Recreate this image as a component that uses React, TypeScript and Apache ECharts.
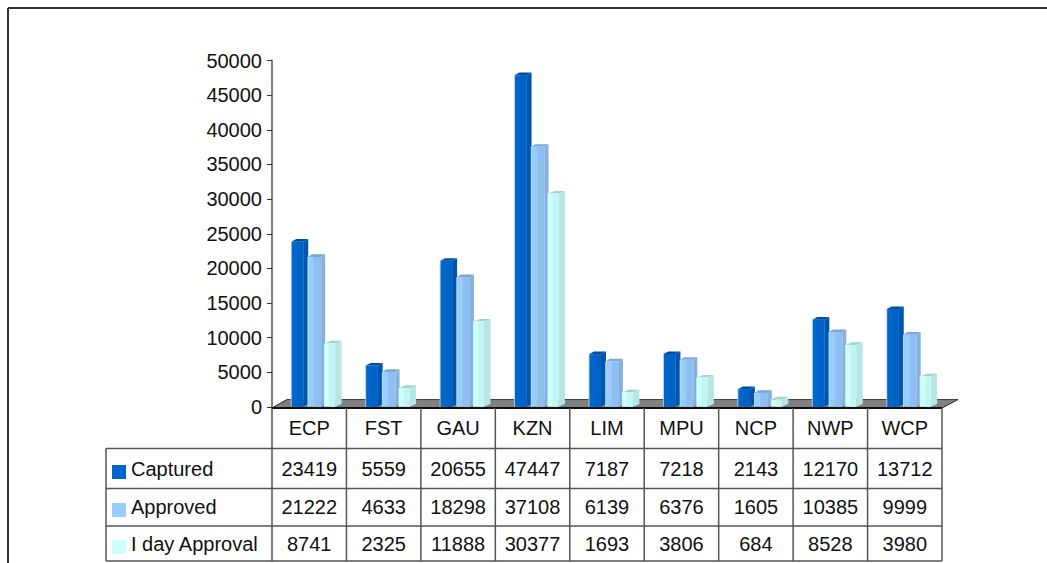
import React, { useEffect, useRef } from "react";
import * as echarts from "echarts";

const categories = ["ECP", "FST", "GAU", "KZN", "LIM", "MPU", "NCP", "NWP", "WCP"];
const captured = [23419, 5559, 20655, 47447, 7187, 7218, 2143, 12170, 13712];
const approved = [21222, 4633, 18298, 37108, 6139, 6376, 1605, 10385, 9999];
const oneDay = [8741, 2325, 11888, 30377, 1693, 3806, 684, 8528, 3980];
const seriesNames = ["Captured", "Approved", "I day Approval"];
const seriesValues = [captured, approved, oneDay];
const frontColors = ["#0066CC", "#99CCFF", "#CCFFFF"];
const shadeColors = ["#0062C4", "#8FBFF0", "#C3F5F5"];
const sideColors = ["#0056AC", "#86B0DE", "#B6E6E6"];
const topColors = ["#004F9E", "#7DA7D2", "#A6CFCD"];
const frontWidths = [12, 13.2, 10.5];
const depths = [5, 4, 6.5];
const edgeColors = ["#C9DDF2", "#CFE6FF", "#E0FFFF"];

const FONT = "'Liberation Sans', Arial, sans-serif";
const TEXT = "#111111";
const LINE = "#555555";
const gridL = 272, gridR = 942, gridT = 60.5, gridB = 407;
const floorB = 408;
const rowLines = [448.5, 488.5, 526, 561];
const rowCenters = [468.5, 507, 543.5];
const swatchY = [465, 503, 540];
const colW = (gridR - gridL) / categories.length;

function barRenderer(idx: number) {
  return (_p: any, api: any) => {
    const p = api.coord([api.value(0), api.value(1)]);
    const pitch = 16.7, rise = 2.6, lift = 3;
    const front = frontWidths[idx], depth = depths[idx];
    const x = p[0] + 7 - 25 + idx * pitch;
    const y = p[1] - lift;
    const b = 406.7;
    const mid = x + front * 0.45;
    return {
      type: "group",
      children: [
        { type: "polygon", shape: { points: [[x + front, y], [x + front + depth, y - rise], [x + front + depth, b - rise], [x + front, b]] }, style: { fill: sideColors[idx] } },
        { type: "polygon", shape: { points: [[x, y], [x + depth, y - rise], [x + front + depth, y - rise], [x + front, y]] }, style: { fill: topColors[idx] } },
        { type: "rect", shape: { x, y, width: front, height: b - y }, style: { fill: frontColors[idx] } },
        { type: "rect", shape: { x: mid, y, width: x + front - mid, height: b - y }, style: { fill: shadeColors[idx] } },
        { type: "line", shape: { x1: x, y1: y, x2: x, y2: b }, style: { stroke: edgeColors[idx], lineWidth: 0.8 } },
      ],
    };
  };
}

function line(x1: number, y1: number, x2: number, y2: number, stroke = LINE, lineWidth = 1.5) {
  return { type: "line", z: 1, shape: { x1, y1, x2, y2 }, style: { stroke, lineWidth } };
}
function label(text: string, x: number, y: number, align = "center") {
  return { type: "text", z: 6, x, y, style: { text, fill: TEXT, font: `20px ${FONT}`, align, verticalAlign: "middle" } };
}

export default function App() {
  const ref = useRef<HTMLDivElement>(null);
  useEffect(() => {
    const chart = echarts.init(ref.current!, undefined, { renderer: "svg" });
    const els: any[] = [
      line(8, 8, 1047, 8, "#333333", 2),
      line(8, 8, 8, 563, "#333333", 2),
      { type: "polygon", z: 1, shape: { points: [[gridL, floorB], [287, 399.5], [958, 399.5], [gridR, floorB]] }, style: { fill: "#808080" } },
      line(287, 399.5, 958, 399.5, "#444444", 1),
      line(958, 399.5, gridR, floorB, "#222222", 1),
      line(gridL, floorB, 287, 399.5, "#222222", 1),
      line(gridL, floorB, gridR, floorB, "#111111", 2),
      line(106, rowLines[0], 106, 561),
      ...rowLines.map((y) => line(106, y, gridR, y)),
      ...categories.map((_c, i) => line(gridL + colW * i, floorB, gridL + colW * i, 561)),
      line(gridR, floorB, gridR, 561),
    ];
    seriesNames.forEach((name, r) => {
      els.push({ type: "rect", z: 6, shape: { x: 112, y: swatchY[r], width: 14, height: 14 }, style: { fill: frontColors[r] } });
      els.push(label(name, 131, rowCenters[r], "left"));
      seriesValues[r].forEach((v, c) => els.push(label(String(v), gridL + colW * (c + 0.5), rowCenters[r])));
    });
    chart.setOption({
      animation: false,
      backgroundColor: "#ffffff",
      grid: { left: gridL, top: gridT, width: gridR - gridL, height: gridB - gridT, containLabel: false },
      xAxis: {
        type: "category",
        data: categories,
        axisLine: { show: false },
        axisTick: { show: false },
        axisLabel: { color: TEXT, fontFamily: FONT, fontSize: 20, margin: 11 },
      },
      yAxis: {
        type: "value", min: 0, max: 50000, interval: 5000,
        splitLine: { show: false },
        axisLine: { show: true, lineStyle: { color: "#808080", width: 2 } },
        axisTick: { show: true, length: 5, lineStyle: { color: "#333333", width: 1 } },
        axisLabel: { color: TEXT, fontFamily: FONT, fontSize: 20, margin: 10, formatter: (v: number) => String(v) },
      },
      graphic: { elements: els },
      series: seriesValues.map((vals, idx) => ({
        type: "custom",
        name: seriesNames[idx],
        z: 5,
        clip: false,
        renderItem: barRenderer(idx),
        encode: { x: 0, y: 1 },
        data: vals.map((v, i) => [i, v]),
      })),
    });
    return () => chart.dispose();
  }, []);
  return <div ref={ref} style={{ position: "fixed", left: 0, top: 0, width: 1047, height: 563 }} />;
}
